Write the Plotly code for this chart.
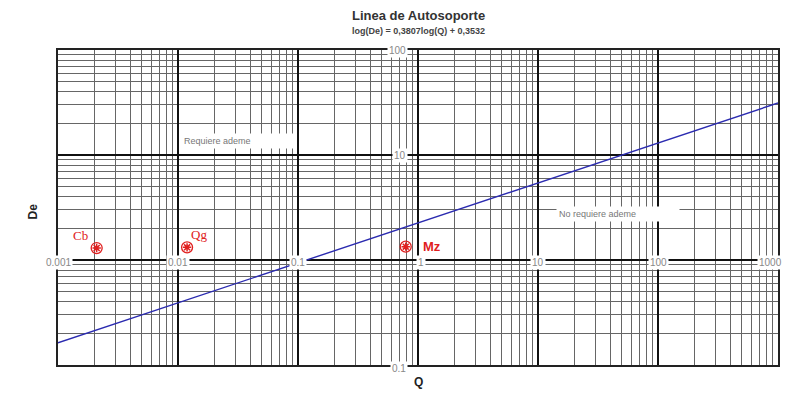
import numpy as np
import plotly.graph_objects as go

# Data
slope = 0.3807
intercept = 0.3532
line_q = [0.001, 1000]
point_names = ["Cb", "Qg", "Mz"]
point_q = [0.0021, 0.0119, 0.79]
point_de = [1.3, 1.32, 1.34]
x_tick_vals = [0.001, 0.01, 0.1, 1, 10, 100, 1000]
x_tick_text = ["0.001", "0.01", "0.1", "1", "10", "100", "1000"]
y_tick_vals = [0.1, 1, 10, 100]
y_tick_text = ["0.1", "1", "10", "100"]

line_de = [10 ** (slope * np.log10(q) + intercept) for q in line_q]

fig = go.Figure()
fig.add_trace(go.Scatter(x=line_q, y=line_de, mode="lines",
                         line=dict(color="#2b2bb0", width=1.4), showlegend=False))
fig.add_trace(go.Scatter(x=point_q, y=point_de, mode="markers",
                         marker=dict(symbol="circle-open", size=11, color="#e02020",
                                     line=dict(width=1.3, color="#e02020")),
                         showlegend=False))
fig.add_trace(go.Scatter(x=point_q, y=point_de, mode="markers",
                         marker=dict(symbol="asterisk-open", size=7, color="#e02020",
                                     line=dict(width=1.5, color="#e02020")),
                         showlegend=False))

ann = []
# x tick labels along the y=1 line
for v, t in zip(x_tick_vals, x_tick_text):
    xs = 0
    if v == 1:
        xs = 3
    elif v == 1000:
        xs = -8
    ann.append(dict(x=np.log10(v), y=0, xref="x", yref="y", text=t, showarrow=False,
                    xshift=xs, yshift=-2,
                    font=dict(family="Liberation Sans", size=10, color="#888"),
                    bgcolor="white", borderpad=1))
# y tick labels along x=1 line
for v, t in zip(y_tick_vals, y_tick_text):
    if v == 1:
        continue
    ann.append(dict(x=0, y=np.log10(v), xref="x", yref="y", text=t, showarrow=False,
                    xanchor="right", xshift=-10, yshift=(-3 if v == 0.1 else 0),
                    font=dict(family="Liberation Sans", size=10, color="#888"),
                    bgcolor="white", borderpad=1))

# point labels
label_offsets = {"Cb": (-16, 13), "Qg": (12, 13), "Mz": (26, 0)}
for n, q, d in zip(point_names, point_q, point_de):
    dx, dy = label_offsets[n]
    if n == "Mz":
        txt, fam = "<b>Mz</b>", "Liberation Sans"
    else:
        txt, fam = n, "Liberation Serif"
    ann.append(dict(x=np.log10(q), y=np.log10(d), xref="x", yref="y", text=txt,
                    showarrow=False, xshift=dx, yshift=dy,
                    font=dict(family=fam, size=13, color="#e02020")))

# region text boxes
ann.append(dict(x=np.log10(0.0105), y=np.log10(13.5), xref="x", yref="y",
                text="Requiere ademe", showarrow=False, xanchor="left",
                font=dict(family="Liberation Sans", size=9, color="#777"),
                bgcolor="white", width=108, align="left", borderpad=2))
ann.append(dict(x=np.log10(14), y=np.log10(2.75), xref="x", yref="y",
                text="No requiere ademe", showarrow=False, xanchor="left",
                font=dict(family="Liberation Sans", size=9, color="#777"),
                bgcolor="white", width=118, align="left", borderpad=2))

# titles
ann.append(dict(x=0.5, y=1, xref="paper", yref="paper", yanchor="middle", yshift=35,
                text="<b>Linea de Autosoporte</b>",
                showarrow=False, font=dict(family="Liberation Sans", size=13, color="#333")))
ann.append(dict(x=0.5, y=1, xref="paper", yref="paper", yanchor="middle", yshift=19,
                text="<b>log(De) = 0,3807log(Q) + 0,3532</b>",
                showarrow=False, font=dict(family="Liberation Sans", size=9, color="#444")))
ann.append(dict(x=0.5, y=0, xref="paper", yref="paper", yanchor="middle", yshift=-17,
                text="<b>Q</b>",
                showarrow=False, font=dict(family="Liberation Sans", size=12, color="#222")))
ann.append(dict(x=0, y=0.5, xref="paper", yref="paper", xanchor="center", xshift=-26, yshift=-4,
                text="<b>De</b>", textangle=-90, showarrow=False,
                font=dict(family="Liberation Sans", size=12, color="#222")))

axis_common = dict(type="log", dtick=1, showticklabels=False, ticks="",
                   showgrid=True, gridcolor="#111", gridwidth=1.8,
                   minor=dict(showgrid=True, gridcolor="#666", gridwidth=1.1, dtick="D1", ticks=""),
                   showline=True, linecolor="#222", linewidth=1.5, mirror=True,
                   zeroline=False)

fig.update_layout(
    width=785, height=385,
    margin=dict(l=50, r=15, t=42, b=28),
    paper_bgcolor="white", plot_bgcolor="white",
    xaxis=dict(range=[-3, 3], **axis_common),
    yaxis=dict(range=[-1, 2], **axis_common),
    annotations=ann,
    showlegend=False,
)

fig.write_html("out.html")
